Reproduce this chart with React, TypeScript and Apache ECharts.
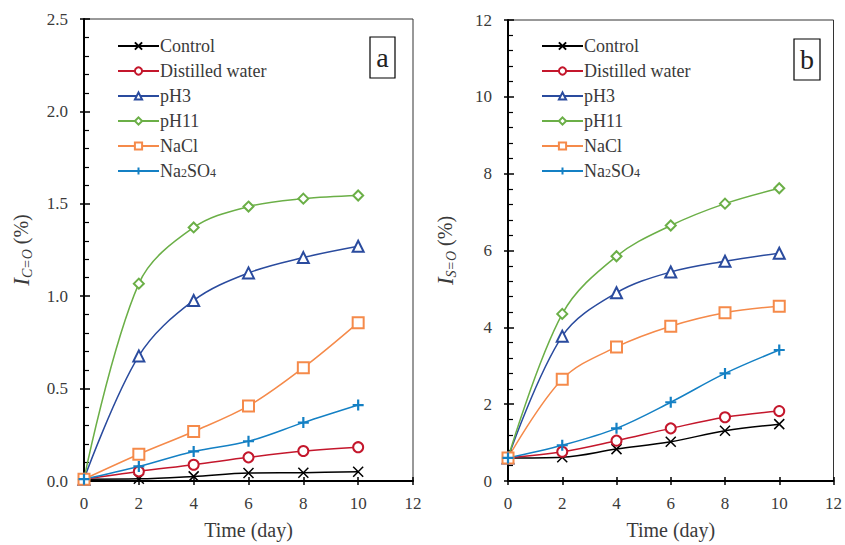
import React, { useEffect, useRef } from "react";
import * as echarts from "echarts";

const days = [0, 2, 4, 6, 8, 10];
const seriesNames = ["Control", "Distilled water", "pH3", "pH11", "NaCl", "Na2SO4"];
const seriesColors = ["#000000", "#C4172C", "#2A4B9E", "#6BAF47", "#F58A4A", "#1480C4"];

// Panel a: I_C=O (%)
const aControl = [0.01, 0.012, 0.025, 0.043, 0.045, 0.05];
const aDistilled = [0.01, 0.052, 0.088, 0.128, 0.162, 0.183];
const aPH3 = [0.01, 0.677, 0.977, 1.126, 1.209, 1.27];
const aPH11 = [0.01, 1.068, 1.372, 1.485, 1.528, 1.545];
const aNaCl = [0.01, 0.145, 0.268, 0.406, 0.613, 0.857];
const aNa2SO4 = [0.01, 0.079, 0.16, 0.215, 0.316, 0.411];

// Panel b: I_S=O (%)
const bControl = [0.6, 0.62, 0.83, 1.02, 1.31, 1.48];
const bDistilled = [0.6, 0.76, 1.05, 1.37, 1.66, 1.82];
const bPH3 = [0.6, 3.77, 4.9, 5.44, 5.72, 5.93];
const bPH11 = [0.6, 4.35, 5.85, 6.65, 7.22, 7.62];
const bNaCl = [0.6, 2.65, 3.49, 4.03, 4.38, 4.55];
const bNa2SO4 = [0.6, 0.93, 1.37, 2.05, 2.8, 3.41];

const xTicks = [0, 2, 4, 6, 8, 10, 12];
const aYTicks = [0, 0.5, 1.0, 1.5, 2.0, 2.5];
const bYTicks = [0, 2, 4, 6, 8, 10, 12];

const panelA = [aControl, aDistilled, aPH3, aPH11, aNaCl, aNa2SO4];
const panelB = [bControl, bDistilled, bPH3, bPH11, bNaCl, bNa2SO4];

const symbols = [
  "path://M0,0L10,10M10,0L0,10",
  "emptyCircle",
  "emptyTriangle",
  "emptyDiamond",
  "emptyRect",
  "path://M5,0L5,10M0,5L10,5",
];
const symbolSizes = [10, 10, 11, 10, 11, 11];

const FONT = "Liberation Serif";
const TXT = "#3a3a3a";

export default function App() {
  const ref = useRef<HTMLDivElement>(null);
  useEffect(() => {
    if (!ref.current) return;
    const chart = echarts.init(ref.current, undefined, { renderer: "svg" });

    const makeSeries = (panel: number[][], idx: number) =>
      panel.map((vals, i) => ({
        name: seriesNames[i],
        type: "line",
        xAxisIndex: idx,
        yAxisIndex: idx,
        smooth: 0.35,
        data: days.map((d, j) => [d, vals[j]]),
        symbol: symbols[i],
        symbolSize: symbolSizes[i],
        lineStyle: { color: seriesColors[i], width: 1.5 },
        itemStyle: {
          color: seriesColors[i],
          borderColor: seriesColors[i],
          borderWidth: i === 5 ? 2.2 : 1.5,
        },
        z: 3,
      }));

    const mainY = (grid: number, max: number, interval: number, ticks: number[], dec: number, name: string, gap: number) => ({
      type: "value",
      gridIndex: grid,
      min: 0,
      max,
      interval,
      splitNumber: 5,
      name,
      nameLocation: "middle",
      nameGap: gap,
      nameTextStyle: {
        fontFamily: FONT,
        color: TXT,
        rich: {
          i: { fontFamily: FONT, fontStyle: "italic", fontSize: 23, color: TXT, lineHeight: 26, verticalAlign: "middle" },
          s: { fontFamily: FONT, fontStyle: "italic", fontSize: 14, color: TXT, lineHeight: 10, verticalAlign: "bottom" },
          n: { fontFamily: FONT, fontSize: 20, color: TXT, lineHeight: 26, verticalAlign: "middle" },
        },
      },
      axisLine: { show: true, lineStyle: { color: "#000", width: 2 } },
      axisTick: { show: true, inside: true, length: 6, lineStyle: { color: "#000", width: 1.5 } },
      minorTick: { show: true, splitNumber: 5, length: 5, lineStyle: { color: "#000", width: 1.2 } },
      axisLabel: {
        fontFamily: FONT,
        fontSize: 17,
        color: TXT,
        margin: 16,
        formatter: (v: number) => (ticks.includes(v) ? v.toFixed(dec) : ""),
      },
      splitLine: { show: false },
    });

    const outerY = (grid: number, max: number, interval: number) => ({
      type: "value",
      gridIndex: grid,
      min: 0,
      max,
      interval,
      position: "left",
      axisLine: { show: false },
      axisTick: { show: true, inside: false, length: 4, lineStyle: { color: "#000", width: 1.5 } },
      axisLabel: { show: false },
      splitLine: { show: false },
    });

    const mainX = (grid: number) => ({
      type: "value",
      gridIndex: grid,
      min: 0,
      max: 12,
      interval: 2,
      name: "Time (day)",
      nameLocation: "middle",
      nameGap: 39,
      nameTextStyle: { fontFamily: FONT, fontSize: 20, color: TXT },
      axisLine: { show: true, onZero: false, lineStyle: { color: "#000", width: 2 } },
      axisTick: { show: true, inside: true, length: 4, lineStyle: { color: "#000", width: 1.5 } },
      axisLabel: {
        fontFamily: FONT,
        fontSize: 17,
        color: TXT,
        margin: 14,
        formatter: (v: number) => (xTicks.includes(v) ? String(v) : ""),
      },
      splitLine: { show: false },
    });

    const outerX = (grid: number) => ({
      type: "value",
      gridIndex: grid,
      min: 0,
      max: 12,
      interval: 2,
      position: "bottom",
      axisLine: { show: false, onZero: false },
      axisTick: { show: true, inside: false, length: 4, lineStyle: { color: "#000", width: 1.5 } },
      axisLabel: { show: false },
      splitLine: { show: false },
    });

    const legend = (left: number) => ({
      orient: "vertical",
      left,
      top: 32,
      itemWidth: 41,
      itemHeight: 9,
      itemGap: 7,
      data: seriesNames,
      selectedMode: false,
      formatter: (n: string) => (n === "Na2SO4" ? "Na{s|2}SO{s|4}" : n),
      textStyle: {
        fontFamily: FONT,
        fontSize: 18,
        color: TXT,
        lineHeight: 16,
        padding: [0, 0, 0, -4],
        rich: {
          s: { fontFamily: FONT, fontSize: 12, color: TXT, verticalAlign: "bottom", lineHeight: 8 },
        },
      },
    });

    const boxLabel = (x: number, y: number, w: number, h: number, t: string) => ({
      type: "group",
      children: [
        { type: "rect", shape: { x, y, width: w, height: h }, style: { fill: "#fff", stroke: "#000", lineWidth: 1.2 } },
        {
          type: "text",
          x: x + w / 2,
          y: y + h / 2,
          style: { text: t, fontFamily: FONT, fontSize: 28, fill: "#222", align: "center", verticalAlign: "middle" },
        },
      ],
    });

    chart.setOption({
      animation: false,
      backgroundColor: "#fff",
      textStyle: { fontFamily: FONT },
      grid: [
        { left: 84, top: 19, width: 329, height: 464, show: true, borderColor: "#333", borderWidth: 1, backgroundColor: "transparent" },
        { left: 508, top: 20, width: 329, height: 462, show: true, borderColor: "#333", borderWidth: 1, backgroundColor: "transparent" },
      ],
      xAxis: [mainX(0), mainX(1), outerX(0), outerX(1)],
      yAxis: [
        mainY(0, 2.5, 0.5, aYTicks, 1, "{i|I}{s|C=O}{n| (%)}", 50),
        mainY(1, 12, 2, bYTicks, 0, "{i|I}{s|S=O}{n| (%)}", 50),
        outerY(0, 2.5, 0.5),
        outerY(1, 12, 2),
      ],
      legend: [legend(112), legend(536)],
      graphic: [boxLabel(370, 37, 25, 41, "a"), boxLabel(794, 39, 26, 41, "b")],
      series: [...makeSeries(panelA, 0), ...makeSeries(panelB, 1)],
    });
    return () => chart.dispose();
  }, []);
  return <div ref={ref} style={{ width: 845, height: 545, position: "absolute", left: 0, top: 0 }} />;
}
